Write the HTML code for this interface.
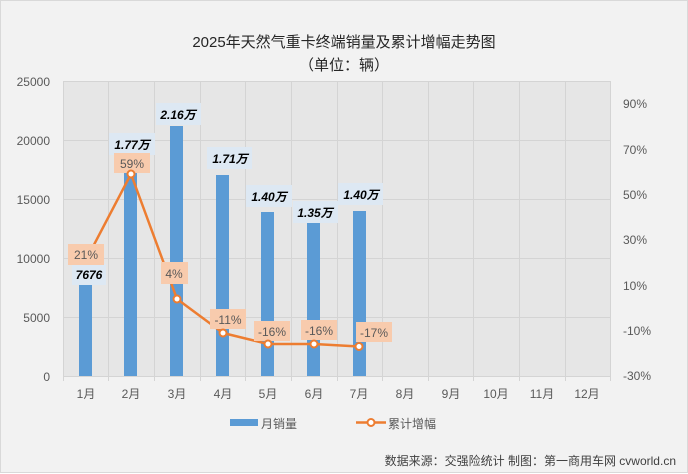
<!DOCTYPE html>
<html><head><meta charset="utf-8"><style>
html,body{margin:0;padding:0;background:#fff}
svg{display:block;font-family:"Liberation Sans","Noto Sans CJK SC",sans-serif}
</style></head><body>
<svg width="688" height="474" viewBox="0 0 688 474" xmlns="http://www.w3.org/2000/svg">
<rect x="0.5" y="0.5" width="687" height="472" fill="#f2f2f2" stroke="#d9d9d9"/>
<text x="344" y="47" text-anchor="middle" font-size="15" fill="#262626">2025年天然气重卡终端销量及累计增幅走势图</text>
<text x="344" y="70" text-anchor="middle" font-size="15" fill="#262626">（单位：辆）</text>
<rect x="63" y="81" width="547" height="295" fill="#e6e6e6"/>
<g stroke="#d4d4d4" stroke-width="1">
<line x1="63" y1="81.5" x2="610" y2="81.5"/><line x1="63" y1="140.5" x2="610" y2="140.5"/><line x1="63" y1="199.5" x2="610" y2="199.5"/><line x1="63" y1="258.5" x2="610" y2="258.5"/><line x1="63" y1="317.5" x2="610" y2="317.5"/>
<line x1="63.5" y1="81" x2="63.5" y2="381"/><line x1="108.5" y1="81" x2="108.5" y2="381"/><line x1="154.5" y1="81" x2="154.5" y2="381"/><line x1="200.5" y1="81" x2="200.5" y2="381"/><line x1="245.5" y1="81" x2="245.5" y2="381"/><line x1="291.5" y1="81" x2="291.5" y2="381"/><line x1="337.5" y1="81" x2="337.5" y2="381"/><line x1="382.5" y1="81" x2="382.5" y2="381"/><line x1="428.5" y1="81" x2="428.5" y2="381"/><line x1="473.5" y1="81" x2="473.5" y2="381"/><line x1="519.5" y1="81" x2="519.5" y2="381"/><line x1="565.5" y1="81" x2="565.5" y2="381"/><line x1="610.5" y1="81" x2="610.5" y2="381"/>
<line x1="63" y1="376.5" x2="610" y2="376.5"/>
</g>
<g font-size="12" fill="#595959" text-anchor="end">
<text x="50" y="86">25000</text><text x="50" y="145">20000</text><text x="50" y="204">15000</text><text x="50" y="263">10000</text><text x="50" y="322">5000</text><text x="50" y="381">0</text>
</g>
<g font-size="12" fill="#595959">
<text x="623" y="108">90%</text><text x="623" y="154">70%</text><text x="623" y="199">50%</text><text x="623" y="244">30%</text><text x="623" y="290">10%</text><text x="623" y="335">-10%</text><text x="623" y="380">-30%</text>
</g>
<g font-size="12" fill="#595959" text-anchor="middle">
<text x="86" y="398">1月</text><text x="131" y="398">2月</text><text x="177" y="398">3月</text><text x="223" y="398">4月</text><text x="268" y="398">5月</text><text x="314" y="398">6月</text><text x="359" y="398">7月</text><text x="405" y="398">8月</text><text x="451" y="398">9月</text><text x="496" y="398">10月</text><text x="542" y="398">11月</text><text x="587" y="398">12月</text>
</g>
<g fill="#5b9bd5">
<rect x="79" y="285" width="13" height="91"/>
<rect x="124" y="172" width="13" height="204"/>
<rect x="170" y="126" width="13" height="250"/>
<rect x="216" y="175" width="13" height="201"/>
<rect x="261" y="212" width="13" height="164"/>
<rect x="307" y="223" width="13" height="153"/>
<rect x="353" y="211" width="13" height="165"/>
</g>
<g fill="#dde8f3">
<rect x="72" y="264" width="34" height="21"/>
<rect x="109" y="133" width="46" height="22"/>
<rect x="156" y="103" width="45" height="22"/>
<rect x="207" y="147" width="45" height="22"/>
<rect x="246" y="185" width="46" height="22"/>
<rect x="293" y="201" width="45" height="22"/>
<rect x="338" y="183" width="45" height="22"/>
</g>
<g font-size="12" font-weight="bold" font-style="italic" fill="#000" text-anchor="middle">
<text x="89" y="279">7676</text>
<text x="132" y="149">1.77万</text>
<text x="178" y="119">2.16万</text>
<text x="230" y="163">1.71万</text>
<text x="269" y="201">1.40万</text>
<text x="315" y="217">1.35万</text>
<text x="361" y="199">1.40万</text>
</g>
<polyline points="86,260 131,174 177,299 223,333 268,344 314,344 359,346.5" fill="none" stroke="#ed7d31" stroke-width="2.5" stroke-linejoin="round"/>
<g fill="#f8cbad">
<rect x="68" y="244" width="36" height="21"/>
<rect x="114" y="153" width="36" height="20"/>
<rect x="161" y="262" width="27" height="22"/>
<rect x="210" y="309" width="36" height="20"/>
<rect x="254" y="321" width="36" height="20"/>
<rect x="301" y="320" width="36" height="20"/>
<rect x="356" y="322" width="36" height="20"/>
</g>
<g fill="#fff" stroke="#ed7d31" stroke-width="2">
<circle cx="131" cy="174" r="3.5"/><circle cx="177" cy="299" r="3.5"/><circle cx="223" cy="333" r="3.5"/><circle cx="268" cy="344" r="3.5"/><circle cx="314" cy="344" r="3.5"/><circle cx="359" cy="346.5" r="3.5"/>
</g>
<g font-size="12" fill="#595959" text-anchor="middle">
<text x="86" y="259">21%</text>
<text x="132" y="168">59%</text>
<text x="174" y="278">4%</text>
<text x="228" y="324">-11%</text>
<text x="272" y="336">-16%</text>
<text x="319" y="335">-16%</text>
<text x="374" y="337">-17%</text>
</g>
<rect x="230" y="419" width="28" height="7" fill="#5b9bd5"/>
<text x="261" y="428" font-size="12" fill="#595959">月销量</text>
<line x1="356" y1="422.5" x2="386" y2="422.5" stroke="#ed7d31" stroke-width="2.5"/>
<circle cx="371" cy="422.5" r="3.5" fill="#fff" stroke="#ed7d31" stroke-width="2"/>
<text x="388" y="428" font-size="12" fill="#595959">累计增幅</text>
<text x="676" y="465" text-anchor="end" font-size="12" fill="#404040">数据来源：交强险统计 制图：第一商用车网 cvworld.cn</text>
</svg>
</body></html>
